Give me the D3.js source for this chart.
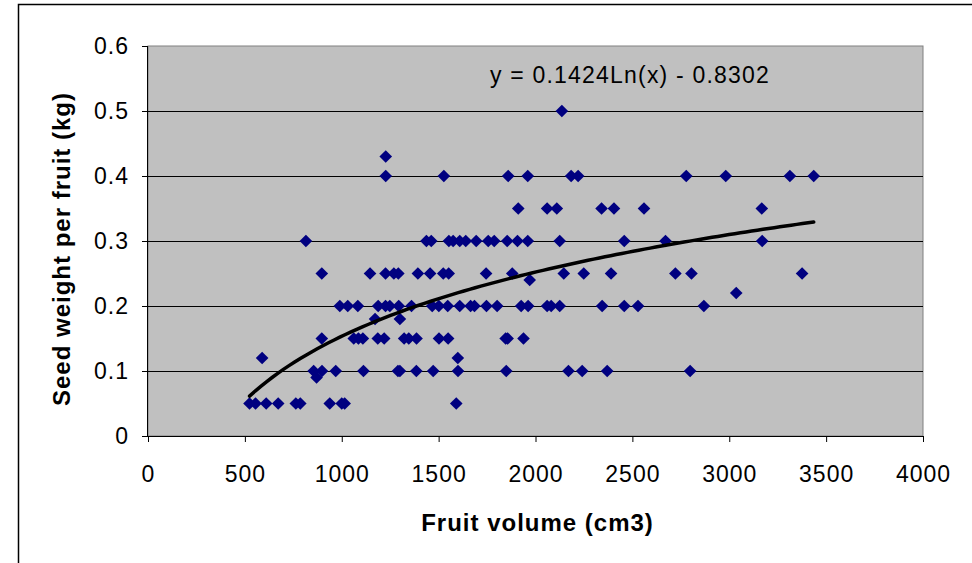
<!DOCTYPE html>
<html>
<head>
<meta charset="utf-8">
<script src="https://cdn.jsdelivr.net/npm/d3@7"></script>
<style>
  body { margin: 0; background: #fff; }
  svg text { font-family: "Liberation Sans", Arial, sans-serif; }
</style>
</head>
<body>
<script>
// fruit volume (cm3) and seed weight (kg)
var volume = [
  2136,
  1227,
  1227, 1527, 1859, 1960, 2184, 2220, 2778, 2982, 3313, 3436,
  1911, 2060, 2110, 2341, 2405, 2560, 3168,
  815, 1437, 1462, 1553, 1575, 1609, 1640, 1694, 1756, 1787, 1854, 1907, 1960, 2125, 2458, 2671, 3170,
  897, 1146, 1226, 1269, 1292, 1393, 1456, 1524, 1552, 1745, 1880, 2146, 2249, 2390, 2722, 2805, 3376,
  1970,
  3036,
  990, 1031, 1083, 1188, 1226, 1248, 1294, 1360, 1467, 1501, 1547, 1609, 1665, 1685, 1747, 1802, 1926, 1962, 2060, 2081, 2125, 2344, 2458, 2529, 2869,
  1172, 1300,
  897, 1062, 1086, 1109, 1186, 1219, 1322, 1346, 1386, 1502, 1549, 1846, 1856, 1938,
  589, 1599,
  855, 898, 969, 1112, 1290, 1300, 1385, 1472, 1600, 1849, 2170, 2241, 2370, 2798,
  870,
  524, 555, 610, 672, 763, 786, 938, 1000, 1015, 1591
];
var seedWeight = [
  0.5,
  0.43,
  0.4, 0.4, 0.4, 0.4, 0.4, 0.4, 0.4, 0.4, 0.4, 0.4,
  0.35, 0.35, 0.35, 0.35, 0.35, 0.35, 0.35,
  0.3, 0.3, 0.3, 0.3, 0.3, 0.3, 0.3, 0.3, 0.3, 0.3, 0.3, 0.3, 0.3, 0.3, 0.3, 0.3, 0.3,
  0.25, 0.25, 0.25, 0.25, 0.25, 0.25, 0.25, 0.25, 0.25, 0.25, 0.25, 0.25, 0.25, 0.25, 0.25, 0.25, 0.25,
  0.24,
  0.22,
  0.2, 0.2, 0.2, 0.2, 0.2, 0.2, 0.2, 0.2, 0.2, 0.2, 0.2, 0.2, 0.2, 0.2, 0.2, 0.2, 0.2, 0.2, 0.2, 0.2, 0.2, 0.2, 0.2, 0.2, 0.2,
  0.18, 0.18,
  0.15, 0.15, 0.15, 0.15, 0.15, 0.15, 0.15, 0.15, 0.15, 0.15, 0.15, 0.15, 0.15, 0.15,
  0.12, 0.12,
  0.1, 0.1, 0.1, 0.1, 0.1, 0.1, 0.1, 0.1, 0.1, 0.1, 0.1, 0.1, 0.1, 0.1,
  0.09,
  0.05, 0.05, 0.05, 0.05, 0.05, 0.05, 0.05, 0.05, 0.05, 0.05
];
var xTicks = [0, 500, 1000, 1500, 2000, 2500, 3000, 3500, 4000];
var yTicks = [0, 0.1, 0.2, 0.3, 0.4, 0.5, 0.6];
// log trendline from the chart label
var trendA = 0.1424, trendB = -0.8302;
var trendLabel = 'y = 0.1424Ln(x) - 0.8302';

var margin = { top: 46, right: 49, bottom: 127, left: 148 },
  width = 972 - margin.left - margin.right,
  height = 563 - margin.top - margin.bottom;

var root = d3.select('body')
  .append('svg')
  .attr('width', 972)
  .attr('height', 563);

// chart frame
root.append('path')
  .attr('d', 'M18.5,563 L18.5,4.5 L972,4.5')
  .attr('fill', 'none')
  .attr('stroke', '#000')
  .attr('stroke-width', 1.5);

var svg = root.append('g')
  .attr('transform', 'translate(' + margin.left + ',' + margin.top + ')');

var xScale = d3.scaleLinear().domain([0, 4000]).range([0, width]);
var yScale = d3.scaleLinear().domain([0, 0.6]).range([height, 0]);

svg.append('rect')
  .attr('width', width)
  .attr('height', height)
  .attr('fill', '#c0c0c0')
  .attr('stroke', '#808080')
  .attr('stroke-width', 1);

svg.append('g')
  .attr('class', 'grid')
  .selectAll('line')
  .data(yTicks.filter(function (d) { return d > 0 && d < 0.6; }))
  .enter()
  .append('line')
  .attr('x1', 0)
  .attr('x2', width)
  .attr('y1', function (d) { return Math.round(yScale(d)) + 0.5; })
  .attr('y2', function (d) { return Math.round(yScale(d)) + 0.5; })
  .attr('stroke', '#000')
  .attr('stroke-width', 1);

var xAxis = d3.axisBottom(xScale).tickValues(xTicks).tickSize(6).tickPadding(24).tickFormat(d3.format('d'));
var yAxis = d3.axisLeft(yScale).tickValues(yTicks).tickSize(6).tickPadding(13).tickFormat(function (d) { return d === 0 ? '0' : d3.format('.1f')(d); });

svg.append('g')
  .attr('class', 'x axis')
  .attr('transform', 'translate(0,' + height + ')')
  .call(xAxis)
  .call(function (g) { g.select('.domain').attr('d', 'M0,0.5H' + width); });

svg.append('g')
  .attr('class', 'y axis')
  .call(yAxis)
  .call(function (g) { g.select('.domain').attr('d', 'M-0.5,0V' + height); });

svg.selectAll('.axis text')
  .attr('font-size', 23)
  .attr('letter-spacing', 1)
  .attr('font-family', '"Liberation Sans", Arial, sans-serif')
  .attr('fill', '#000');
svg.selectAll('.axis line, .axis path').attr('stroke', '#000');

// points
svg.selectAll('.dot')
  .data(volume)
  .enter()
  .append('path')
  .attr('class', 'dot')
  .attr('d', d3.symbol(d3.symbolSquare, 80))
  .attr('transform', function (d, i) {
    return 'translate(' + xScale(d) + ',' + yScale(seedWeight[i]) + ') rotate(45)';
  })
  .attr('fill', '#000080');

// trendline
var xMin = d3.min(volume), xMax = d3.max(volume);
var trendPts = d3.range(0, 101).map(function (k) {
  var x = xMin + (xMax - xMin) * k / 100;
  return [x, trendA * Math.log(x) + trendB];
});
svg.append('path')
  .datum(trendPts)
  .attr('fill', 'none')
  .attr('stroke', '#000')
  .attr('stroke-width', 3.5)
  .attr('stroke-linecap', 'round')
  .attr('d', d3.line()
    .x(function (d) { return xScale(d[0]); })
    .y(function (d) { return yScale(d[1]); }));

svg.append('text')
  .attr('x', 342)
  .attr('y', 37)
  .attr('font-size', 23)
  .attr('letter-spacing', 1.2)
  .text(trendLabel);

svg.append('text')
  .attr('x', width / 2 + 2)
  .attr('y', height + 95)
  .attr('text-anchor', 'middle')
  .attr('font-size', 24)
  .attr('letter-spacing', 1)
  .attr('font-weight', 'bold')
  .text('Fruit volume (cm3)');

svg.append('text')
  .attr('transform', 'rotate(-90)')
  .attr('x', -height / 2 - 8)
  .attr('y', -78)
  .attr('text-anchor', 'middle')
  .attr('font-size', 24)
  .attr('letter-spacing', 1)
  .attr('font-weight', 'bold')
  .text('Seed weight per fruit (kg)');
</script>
</body>
</html>
